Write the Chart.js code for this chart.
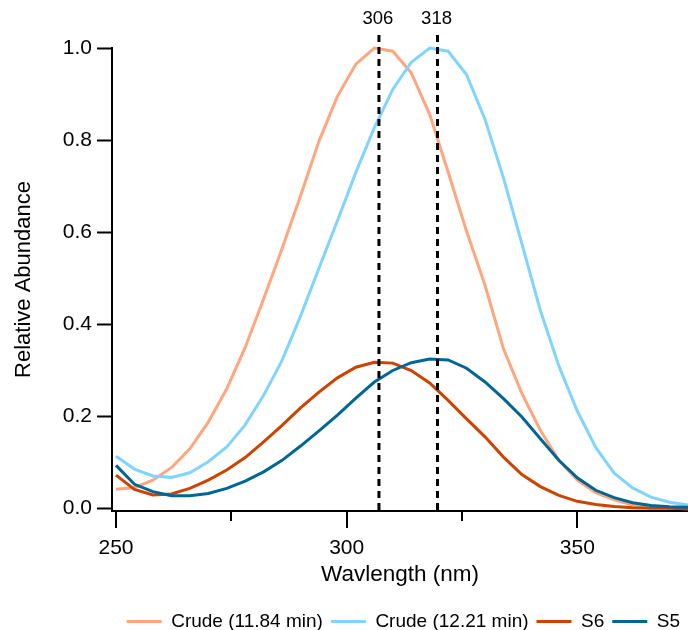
<!DOCTYPE html>
<html>
<head>
<meta charset="utf-8">
<title>UV spectra</title>
<script src="https://cdn.jsdelivr.net/npm/chart.js@4.4.0/dist/chart.umd.min.js"></script>
<style>
  html, body { margin: 0; padding: 0; background: #fff; }
</style>
</head>
<body>
<canvas id="uv-chart" width="688" height="630"></canvas>
<script>
// Wavelength grid (nm), 4 nm steps
const wavelengths = [250, 254, 258, 262, 266, 270, 274, 278, 282, 286, 290, 294, 298, 302, 306, 310,
                     314, 318, 322, 326, 330, 334, 338, 342, 346, 350, 354, 358, 362, 366, 370, 374];

// Relative abundance per trace
const crude1184 = [0.042, 0.046, 0.062, 0.089, 0.130, 0.188, 0.260, 0.350, 0.455, 0.565, 0.679, 0.798, 0.895, 0.965, 1.000, 0.993,
                   0.946, 0.856, 0.731, 0.602, 0.485, 0.347, 0.250, 0.170, 0.105, 0.062, 0.035, 0.019, 0.008, 0.003, 0.001, 0.000];
const crude1221 = [0.114, 0.086, 0.071, 0.068, 0.078, 0.102, 0.134, 0.182, 0.246, 0.322, 0.418, 0.522, 0.625, 0.730, 0.827, 0.910,
                   0.969, 1.000, 0.993, 0.942, 0.845, 0.718, 0.575, 0.430, 0.310, 0.212, 0.133, 0.077, 0.045, 0.025, 0.014, 0.008];
const s6 = [0.073, 0.042, 0.030, 0.032, 0.044, 0.062, 0.084, 0.111, 0.145, 0.181, 0.219, 0.253, 0.284, 0.307, 0.318, 0.316,
            0.300, 0.273, 0.235, 0.195, 0.156, 0.112, 0.074, 0.048, 0.029, 0.016, 0.009, 0.005, 0.002, 0.001, 0.001, 0.000];
const s5 = [0.094, 0.053, 0.037, 0.028, 0.028, 0.033, 0.044, 0.060, 0.080, 0.105, 0.136, 0.169, 0.203, 0.240, 0.275, 0.300,
            0.317, 0.325, 0.323, 0.305, 0.275, 0.239, 0.199, 0.152, 0.105, 0.067, 0.040, 0.024, 0.013, 0.007, 0.004, 0.003];

const seriesNames = ['Crude (11.84 min)', 'Crude (12.21 min)', 'S6', 'S5'];

// Axis ticks
const xTicks = [250, 275, 300, 325, 350];
const yTicks = [0, 0.2, 0.4, 0.6, 0.8, 1.0];

// Peak markers (dashed lines) and their labels
const peakLines = [307, 319.7];
const peakLabels = ['306', '318'];

const FONT = "'Liberation Sans', Arial, Helvetica, sans-serif";
Chart.defaults.font.family = FONT;
Chart.defaults.color = '#000';

const toPoints = (arr) => wavelengths.map((w, i) => ({ x: w, y: arr[i] }));

function lineDataset(label, values, color, order) {
  return {
    label: label,
    data: toPoints(values),
    borderColor: color,
    backgroundColor: color,
    borderWidth: 3,
    pointRadius: 0,
    tension: 0,
    fill: false,
    clip: false,
    order: order   // lower order is drawn on top
  };
}

/**
 * Dashed peak lines with their labels above the plot
 */
const peakLinesPlugin = {
  id: 'peakLines',
  afterDatasetsDraw(chart) {
    const { ctx, chartArea, scales } = chart;
    ctx.save();
    ctx.strokeStyle = '#000';
    ctx.lineWidth = 3;
    ctx.setLineDash([7, 5]);
    ctx.font = '18.5px ' + FONT;
    ctx.fillStyle = '#000';
    ctx.textAlign = 'center';
    ctx.textBaseline = 'middle';
    peakLines.forEach((v, i) => {
      const px = scales.x.getPixelForValue(v);
      ctx.beginPath();
      ctx.moveTo(px, chartArea.top - 13);
      ctx.lineTo(px, chartArea.bottom);
      ctx.stroke();
      ctx.fillText(peakLabels[i], px - 1, 19);
    });
    ctx.restore();
  }
};

/**
 * Major / minor tick marks on the x axis
 */
const xTickMarksPlugin = {
  id: 'xTickMarks',
  afterDraw(chart) {
    const { ctx, chartArea, scales } = chart;
    ctx.save();
    ctx.strokeStyle = '#000';
    ctx.lineWidth = 2;
    ctx.beginPath();
    xTicks.forEach(v => {
      const px = Math.round(scales.x.getPixelForValue(v));
      const len = v % 50 === 0 ? 16 : 9;
      ctx.moveTo(px, chartArea.bottom + 1);
      ctx.lineTo(px, chartArea.bottom + 1 + len);
    });
    ctx.stroke();
    ctx.restore();
  }
};

new Chart(document.getElementById('uv-chart'), {
  type: 'line',
  data: {
    datasets: [
      lineDataset(seriesNames[0], crude1184, '#ffa67f', 4),
      lineDataset(seriesNames[1], crude1221, '#80d4ff', 3),
      lineDataset(seriesNames[2], s6, '#cc4400', 2),
      lineDataset(seriesNames[3], s5, '#006696', 1)
    ]
  },
  options: {
    responsive: false,
    animation: false,
    layout: {
      padding: { top: 48, left: 0, right: 0, bottom: -11 }
    },
    plugins: {
      tooltip: { enabled: false },
      legend: {
        display: true,
        position: 'bottom',
        align: 'end',
        labels: {
          usePointStyle: true,
          pointStyle: 'line',
          pointStyleWidth: 35,
          padding: 8,
          color: '#000',
          font: { size: 19 },
          sort: (a, b) => a.datasetIndex - b.datasetIndex
        }
      }
    },
    scales: {
      x: {
        type: 'linear',
        min: 249.13,
        max: 374,
        afterBuildTicks: (scale) => { scale.ticks = xTicks.map(v => ({ value: v })); },
        afterFit: (scale) => { scale.height = 93; },
        ticks: {
          autoSkip: false,
          maxRotation: 0,
          padding: 25,
          color: '#000',
          font: { size: 21 },
          callback: (v) => (v % 50 === 0 ? String(v) : '')
        },
        grid: { display: false, drawTicks: false },
        border: { display: true, color: '#000', width: 2 },
        title: {
          display: true,
          text: 'Wavlength (nm)',
          color: '#000',
          font: { size: 22.5 },
          padding: { top: 0, bottom: 16 }
        }
      },
      y: {
        type: 'linear',
        min: -0.005,
        max: 1.0,
        afterBuildTicks: (scale) => { scale.ticks = yTicks.map(v => ({ value: v })); },
        afterFit: (scale) => { scale.width = 112; },
        ticks: {
          padding: 5,
          color: '#000',
          font: { size: 21 },
          callback: (v) => v.toFixed(1)
        },
        grid: {
          drawOnChartArea: false,
          drawTicks: true,
          tickLength: 15,
          tickColor: '#000',
          tickWidth: 2
        },
        border: { display: true, color: '#000', width: 2 },
        title: {
          display: true,
          text: 'Relative Abundance',
          color: '#000',
          font: { size: 22 },
          padding: { top: 11, bottom: 0 }
        }
      }
    }
  },
  plugins: [peakLinesPlugin, xTickMarksPlugin]
});
</script>
</body>
</html>
